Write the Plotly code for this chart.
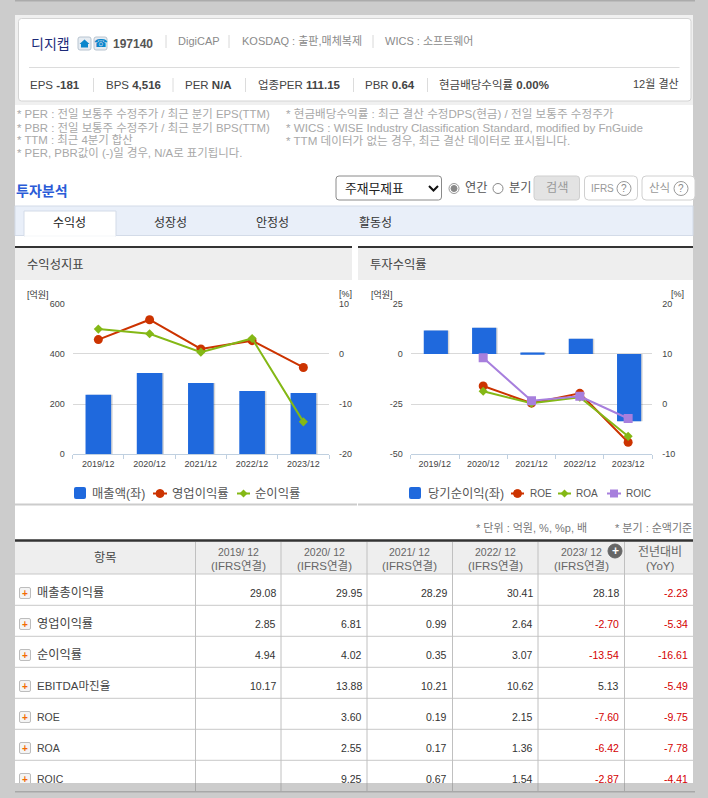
import plotly.graph_objects as go

W, H = 708, 798
SANS = "Liberation Sans, Noto Sans CJK KR"

# chart data
years = ["2019/12", "2020/12", "2021/12", "2022/12", "2023/12"]
revenue = [237, 324, 284, 252, 244]
op_margin = [2.85, 6.81, 0.99, 2.64, -2.70]
net_margin = [4.94, 4.02, 0.35, 3.07, -13.54]
net_income = [11.6, 13.0, 0.7, 7.6, -33.6]
roe = [None, 3.60, 0.19, 2.15, -7.60]
roa = [None, 2.55, 0.17, 1.36, -6.42]
roic = [None, 9.25, 0.67, 1.54, -2.87]

# table data
row_names = ["매출총이익률", "영업이익률", "순이익률", "EBITDA마진율", "ROE", "ROA", "ROIC"]
row_sizes = [12.2, 12.2, 12.2, 11.5, 10.5, 10.5, 10.5]
table_vals = [
    ["29.08", "29.95", "28.29", "30.41", "28.18", "-2.23"],
    ["2.85", "6.81", "0.99", "2.64", "-2.70", "-5.34"],
    ["4.94", "4.02", "0.35", "3.07", "-13.54", "-16.61"],
    ["10.17", "13.88", "10.21", "10.62", "5.13", "-5.49"],
    ["", "3.60", "0.19", "2.15", "-7.60", "-9.75"],
    ["", "2.55", "0.17", "1.36", "-6.42", "-7.78"],
    ["", "9.25", "0.67", "1.54", "-2.87", "-4.41"],
]
col_edges = [15, 195.5, 281, 367, 452.5, 538, 624.5, 693]
row_lines = [574, 605.3, 636.3, 667.3, 698.3, 729.3, 760.3]

notes_left = ["* PER : 전일 보통주 수정주가 / 최근 분기 EPS(TTM)",
              "* PBR : 전일 보통주 수정주가 / 최근 분기 BPS(TTM)",
              "* TTM : 최근 4분기 합산",
              "* PER, PBR값이 (-)일 경우, N/A로 표기됩니다."]
notes_right = ["* 현금배당수익률 : 최근 결산 수정DPS(현금) / 전일 보통주 수정주가",
               "* WICS : WISE Industry Classification Standard, modified by FnGuide",
               "* TTM 데이터가 없는 경우, 최근 결산 데이터로 표시됩니다."]


def px(x):
    return x / W


def py(y):
    return 1 - y / H


shapes = []
annots = []


def rect(x0, y0, x1, y1, fill=None, line=None, lw=1, layer="below"):
    shapes.append(dict(type="rect", xref="paper", yref="paper", x0=px(x0), x1=px(x1),
                       y0=py(y0), y1=py(y1), fillcolor=fill or "rgba(0,0,0,0)",
                       line=dict(color=line or "rgba(0,0,0,0)", width=lw if line else 0), layer=layer))


def rrect(x0, y0, x1, y1, r=3, fill="white", line="#bbb", lw=1, layer="below"):
    p = (f"M {px(x0+r)} {py(y0)} L {px(x1-r)} {py(y0)} Q {px(x1)} {py(y0)} {px(x1)} {py(y0+r)} "
         f"L {px(x1)} {py(y1-r)} Q {px(x1)} {py(y1)} {px(x1-r)} {py(y1)} "
         f"L {px(x0+r)} {py(y1)} Q {px(x0)} {py(y1)} {px(x0)} {py(y1-r)} "
         f"L {px(x0)} {py(y0+r)} Q {px(x0)} {py(y0)} {px(x0+r)} {py(y0)} Z")
    shapes.append(dict(type="path", xref="paper", yref="paper", path=p, fillcolor=fill,
                       line=dict(color=line, width=lw), layer=layer))


def hline(x0, x1, y, color="#ccc", lw=1, layer="below"):
    shapes.append(dict(type="line", xref="paper", yref="paper", x0=px(x0), x1=px(x1), y0=py(y), y1=py(y),
                       line=dict(color=color, width=lw), layer=layer))


def vline(x, y0, y1, color="#ccc", lw=1, layer="below"):
    shapes.append(dict(type="line", xref="paper", yref="paper", x0=px(x), x1=px(x), y0=py(y0), y1=py(y1),
                       line=dict(color=color, width=lw), layer=layer))


def circle(cx, cy, r, fill="white", line="#888", lw=1, layer="above"):
    shapes.append(dict(type="circle", xref="paper", yref="paper", x0=px(cx-r), x1=px(cx+r),
                       y0=py(cy-r), y1=py(cy+r), fillcolor=fill, line=dict(color=line, width=lw), layer=layer))


def polygon(points, fill, layer="above"):
    p = "M " + " L ".join(f"{px(x)} {py(y)}" for x, y in points) + " Z"
    shapes.append(dict(type="path", xref="paper", yref="paper", path=p, fillcolor=fill,
                       line=dict(color=fill, width=0), layer=layer))


def text(x, y, s, size=10, color="#333", anchor="left", family=SANS):
    annots.append(dict(xref="paper", yref="paper", x=px(x), y=py(y), text=s, showarrow=False,
                       xanchor=anchor, yanchor="middle", borderpad=0,
                       font=dict(size=size, color=color, family=family)))


# page background
rect(0, 0, W, H, fill="#cccccc")
rect(15, 0, 695, 1.6, fill="#ababab")
rect(15, 15, 693, 105, fill="#f0f0f0")
rect(15, 105, 693, 793, fill="white")
rrect(18.5, 18.5, 691, 101, r=3, fill="white", line="#d4d4d4")

# company header
text(30, 44, "디지캡", 14, "#1c2a78")
rrect(78, 37, 91, 50, r=2, fill="#e6ecf2", line="#b8c4d0")
rrect(94, 37, 107, 50, r=2, fill="#e6ecf2", line="#b8c4d0")
polygon([(84.5, 39.5), (89.5, 44), (88, 44), (88, 47.5), (81, 47.5), (81, 44), (79.5, 44)], "#0a86cc")
text(100.5, 43.5, "☎", 11, "#0a86cc", "center", "DejaVu Sans")
text(112, 44.5, "<b>197140</b>", 12, "#555")
for x in [166, 229, 373]:
    vline(x, 35, 48, "#d8d8d8")
text(177, 41, "DigiCAP", 11, "#8a8a8a")
text(240.5, 41, "KOSDAQ : 출판,매체복제", 11, "#8a8a8a")
text(384, 41, "WICS : 소프트웨어", 11, "#8a8a8a")
hline(29, 679.5, 67.5, "#dcdcdc")
for x in [93.5, 173, 245.5, 353.5, 427.5]:
    vline(x, 78, 92, "#dcdcdc")
text(29, 85, "EPS <b>-181</b>", 11.5, "#444")
text(104.5, 85, "BPS <b>4,516</b>", 11.5, "#444")
text(184, 85, "PER <b>N/A</b>", 11.5, "#444")
text(256.5, 85, "업종PER <b>111.15</b>", 11.5, "#444")
text(364, 85, "PBR <b>0.64</b>", 11.5, "#444")
text(438, 85, "현금배당수익률 <b>0.00%</b>", 11.5, "#444")
text(680, 84, "12월 결산", 11, "#444", "right")

# footnotes
for i, s in enumerate(notes_left):
    text(16, 114 + i * 13, s, 11.4, "#a8a8a8")
for i, s in enumerate(notes_right):
    text(285, 114 + i * 13, s, 11.6, "#a8a8a8")

# search row
text(15, 191, "<b>투자분석</b>", 14, "#2a5bd7")
rrect(336, 176, 441.5, 200, r=3, fill="white", line="#8a8a8a")
text(344, 188, "주재무제표", 12.8, "#222")
shapes.append(dict(type="path", xref="paper", yref="paper",
                   path=f"M {px(429)} {py(186)} L {px(433.5)} {py(190.5)} L {px(438)} {py(186)}",
                   line=dict(color="#111", width=2), layer="above"))
circle(454, 188.5, 5, fill="white", line="#999")
circle(454, 188.5, 3, fill="#888", line="#888")
text(464, 188, "연간", 12.2, "#555")
circle(498, 188.5, 5, fill="white", line="#888")
text(508, 187.5, "분기", 12.2, "#555")
rrect(534, 176, 579.5, 200, r=3, fill="#e3e3e3", line="#cfcfcf")
text(556.5, 188, "검색", 12.2, "#999", "center")
rrect(584.5, 176, 637.5, 200, r=4, fill="white", line="#d0d0d0")
text(590, 188, "IFRS", 10, "#999")
circle(624, 188.5, 7, fill="white", line="#999")
text(624, 188.5, "?", 10, "#888", "center")
rrect(642, 176, 695, 200, r=4, fill="white", line="#d0d0d0")
text(648, 188, "산식", 11.5, "#999")
circle(681, 188.5, 7, fill="white", line="#999")
text(681, 188.5, "?", 10, "#888", "center")

# tabs
rect(15, 206, 693, 235.5, fill="#e9eff9", line="#d3dbe8")
rect(24, 211, 116, 236, fill="white", line="#d3dbe8")
hline(24.5, 115.5, 236, "white", 1.5)
text(69.5, 223, "수익성", 12, "#222", "center")
text(170.5, 223, "성장성", 12, "#333", "center")
text(272, 223, "안정성", 12, "#333", "center")
text(375, 223, "활동성", 12, "#333", "center")

# chart panel headers
rect(15, 247, 352, 280, fill="#eeeeee")
rect(358, 247, 693, 280, fill="#eeeeee")
hline(15, 352, 247, "#333", 2)
hline(358, 693, 247, "#333", 2)
text(26, 264.5, "수익성지표", 12.3, "#444")
text(369, 264.5, "투자수익률", 12.3, "#444")
hline(15, 357, 504.5, "#cccccc", 2)
hline(358, 695, 504.5, "#cccccc", 2)

# axis unit labels
text(26, 294, "[억원]", 9, "#333")
text(338, 294, "[%]", 9, "#333")
text(370, 294, "[억원]", 9, "#333")
text(670, 294, "[%]", 9, "#333")

BAR = "#1f69dd"
RED = "#cc3300"
GREEN = "#84b816"
PURPLE = "#a77fdd"


def key_line(x0, x1, y, color):
    hline(x0, x1, y, color, 2, "above")


def key_square(x0, y0, x1, y1, color):
    rrect(x0, y0, x1, y1, r=2, fill=color, line=color, lw=0, layer="above")


def key_diamond(cx, cy, color):
    polygon([(cx, cy - 4), (cx + 4, cy), (cx, cy + 4), (cx - 4, cy)], color)


# chart legends
key_square(74, 487, 86, 499, BAR)
text(91.5, 493.5, "매출액(좌)", 12.3, "#555")
key_line(153, 167, 493.5, RED)
circle(160, 493.5, 4, fill=RED, line=RED)
text(170.5, 493.5, "영업이익률", 12.3, "#555")
key_line(237, 250, 493.5, GREEN)
key_diamond(243.5, 493.5, GREEN)
text(254, 493.5, "순이익률", 12.3, "#555")

key_square(409, 487, 421, 499, BAR)
text(427, 493.5, "당기순이익(좌)", 12.3, "#555")
key_line(511, 524, 493.5, RED)
circle(517.5, 493.5, 4, fill=RED, line=RED)
text(528.5, 493.5, "ROE", 10, "#555")
key_line(558, 571, 493.5, GREEN)
key_diamond(564.5, 493.5, GREEN)
text(575, 493.5, "ROA", 10, "#555")
key_line(607, 621, 493.5, PURPLE)
rect(610, 489.5, 618, 497.5, fill=PURPLE, layer="above")
text(624.5, 493.5, "ROIC", 10, "#555")

# table
text(475, 528, "* 단위 : 억원, %, %p, 배", 11, "#777")
text(614, 528, "* 분기 : 순액기준", 11, "#777")
rect(15, 541, 693, 574, fill="#eeeeee")
hline(15, 693, 540.5, "#333", 2.5)
for y in row_lines:
    hline(15, 693, y, "#c8c8c8")
for x in col_edges[1:-1]:
    vline(x, 542, 793, "#c0c0c0")

text(105, 558, "항목", 12.2, "#444", "center")
for i, yr in enumerate(years):
    cx = (col_edges[i + 1] + col_edges[i + 2]) / 2
    text(cx, 552, yr.replace("/", "/ "), 10.5, "#666", "center")
    text(cx, 566, "(IFRS연결)", 11.5, "#666", "center")
circle(615, 551, 7, fill="#666666", line="#666666")
text(615, 550.5, "<b>+</b>", 12, "white", "center")
text(660, 552, "전년대비", 12, "#666", "center")
text(660, 566, "(YoY)", 11.5, "#666", "center")

for r, name in enumerate(row_names):
    y = 592.5 + r * 31
    rrect(19.5, y - 5, 30.5, y + 6, r=1.5, fill="#f4f4f4", line="#bdbdbd")
    text(25, y + 0.5, "<b>+</b>", 10, "#f26a00", "center")
    text(36, y, name, row_sizes[r], "#444")
    for c, v in enumerate(table_vals[r]):
        color = "#d40000" if v.startswith("-") else "#333"
        text(col_edges[c + 2] - 4.5, y, v, 10.5, color, "right")

# bottom strip over the table
rect(15, 783, 693, 793, fill="#cccccc", layer="above")
for x in col_edges[1:-1]:
    vline(x, 783, 791, "#a9a9a9", layer="above")
hline(15, 695, 791.8, "#a8a8a8", 1.5, "above")

fig = go.Figure()

shadow = "rgba(0,0,0,0.16)"
fig.add_trace(go.Bar(x=years, y=revenue, width=0.5, offset=-0.22, marker=dict(color=shadow, line_width=0),
                     xaxis="x", yaxis="y", hoverinfo="skip", showlegend=False))
fig.add_trace(go.Bar(x=years, y=revenue, width=0.5, offset=-0.25, marker=dict(color=BAR, line_width=0),
                     name="매출액(좌)", xaxis="x", yaxis="y"))
fig.add_trace(go.Scatter(x=years, y=op_margin, name="영업이익률", mode="lines+markers", xaxis="x", yaxis="y2",
                         line=dict(color=RED, width=2), marker=dict(symbol="circle", size=9, color=RED)))
fig.add_trace(go.Scatter(x=years, y=net_margin, name="순이익률", mode="lines+markers", xaxis="x", yaxis="y2",
                         line=dict(color=GREEN, width=2), marker=dict(symbol="diamond", size=7, color=GREEN)))

fig.add_trace(go.Bar(x=years, y=net_income, width=0.5, offset=-0.2, marker=dict(color=shadow, line_width=0),
                     xaxis="x2", yaxis="y3", hoverinfo="skip", showlegend=False))
fig.add_trace(go.Bar(x=years, y=net_income, width=0.5, offset=-0.23, marker=dict(color=BAR, line_width=0),
                     name="당기순이익(좌)", xaxis="x2", yaxis="y3"))
fig.add_trace(go.Scatter(x=years, y=roe, name="ROE", mode="lines+markers", xaxis="x2", yaxis="y4",
                         line=dict(color=RED, width=2), marker=dict(symbol="circle", size=9, color=RED)))
fig.add_trace(go.Scatter(x=years, y=roa, name="ROA", mode="lines+markers", xaxis="x2", yaxis="y4",
                         line=dict(color=GREEN, width=2), marker=dict(symbol="diamond", size=7, color=GREEN)))
fig.add_trace(go.Scatter(x=years, y=roic, name="ROIC", mode="lines+markers", xaxis="x2", yaxis="y4",
                         line=dict(color=PURPLE, width=2), marker=dict(symbol="square", size=9, color=PURPLE)))

tickfont = dict(size=9, color="#444", family=SANS)
xaxis_style = dict(type="category", categoryorder="array", categoryarray=years, tickson="boundaries",
                   ticks="outside", ticklen=4, tickcolor="#c0d0e0", tickwidth=1, showline=True,
                   linecolor="#c0d0e0", linewidth=1, showgrid=False, zeroline=False, tickfont=tickfont,
                   ticklabelstandoff=1)
y_top = py(303.7)
y_bot = py(454.3)
left_style = dict(showgrid=True, gridcolor="#d9d9d9", gridwidth=1, zeroline=False, showline=False, ticks="",
                  tickfont=tickfont, ticklabelstandoff=7, domain=[y_bot, y_top], fixedrange=True)
right_style = dict(showgrid=False, zeroline=False, showline=False, ticks="", tickfont=tickfont,
                   ticklabelstandoff=9, side="right", fixedrange=True)


def labels(vals):
    return [str(v) for v in vals]


left_ticks_1 = [0, 200, 400, 600]
right_ticks_1 = [-20, -10, 0, 10]
left_ticks_2 = [-50, -25, 0, 25]
right_ticks_2 = [-10, 0, 10, 20]

fig.update_layout(
    width=W, height=H, autosize=False,
    margin=dict(l=0, r=0, t=0, b=0, pad=0, autoexpand=False),
    paper_bgcolor="white", plot_bgcolor="rgba(0,0,0,0)",
    showlegend=False, barmode="overlay",
    font=dict(family=SANS),
    shapes=shapes, annotations=annots,
    xaxis=dict(domain=[px(72.7), px(329)], anchor="y", **xaxis_style),
    yaxis=dict(range=[0, 600], tickvals=left_ticks_1, ticktext=labels(left_ticks_1), anchor="x", **left_style),
    yaxis2=dict(range=[-20, 10], tickvals=right_ticks_1, ticktext=labels(right_ticks_1), overlaying="y", anchor="x", **right_style),
    xaxis2=dict(domain=[px(410.7), px(652.3)], anchor="y3", **xaxis_style),
    yaxis3=dict(range=[-50, 25], tickvals=left_ticks_2, ticktext=labels(left_ticks_2), anchor="x2", **left_style),
    yaxis4=dict(range=[-10, 20], tickvals=right_ticks_2, ticktext=labels(right_ticks_2), overlaying="y3", anchor="x2", **right_style),
)

fig.write_html("out.html", config={"displayModeBar": False},
               post_script="document.body.style.margin='0';document.body.style.overflow='hidden';")
